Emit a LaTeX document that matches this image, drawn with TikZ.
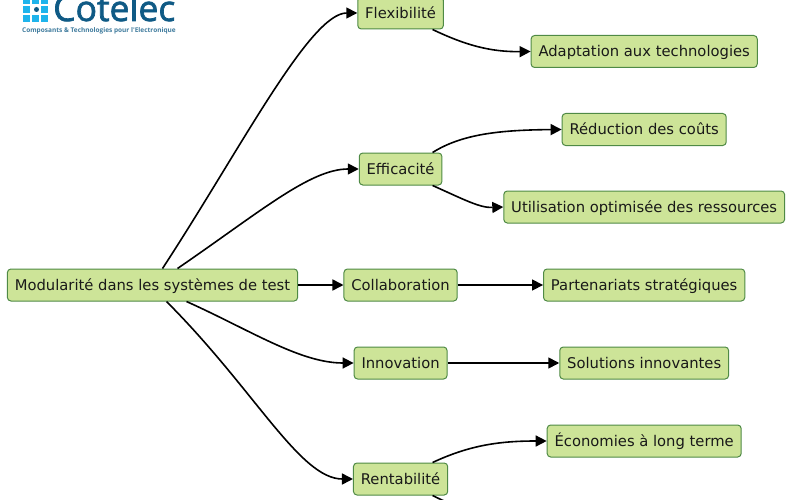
\documentclass[tikz,border=0pt]{standalone}
\usepackage{fontspec}
\setmainfont{DejaVu Sans}
\newfontfamily\logofont[FakeBold=2]{Open Sans}
\newfontfamily\logotagfont{Open Sans}
\usetikzlibrary{arrows.meta,positioning}
\definecolor{leaf}{HTML}{CDE498}
\definecolor{leafline}{HTML}{4F8A45}
\definecolor{logoblue}{HTML}{0F5A85}
\definecolor{logocyan}{HTML}{1FB4EC}
\tikzset{
  topicbox/.style={
    rectangle, rounded corners=3.5pt, draw=leafline, fill=leaf, line width=1pt,
    minimum height=32pt, inner xsep=7.4pt, inner ysep=0pt,
    text height=14pt, text depth=3pt,
    font=\fontsize{14.76}{16}\selectfont, text=black!90
  },
  linkarrow/.style={
    -{Stealth[length=11pt,width=11pt,inset=0pt]}, line width=1.6pt, color=black
  },
}

\begin{document}
\begin{tikzpicture}[x=1pt,y=-1pt,node distance=45pt and 45pt]
  \useasboundingbox (0,0) rectangle (800,500);
  \clip (0,0) rectangle (800,500);

  % Logo
  \foreach \col/\row in {0/0,1/0,2/0,0/1,2/1,0/2,1/2,2/2}
    \fill[logocyan] (23+9*\col,-3+9*\row) rectangle +(7,7);
  \fill[logoblue] (36.5,9.5) circle (2.5);
  \node[anchor=base west, inner sep=0pt, text=logoblue,
    font=\logofont\fontsize{35.5}{36}\selectfont] (logoname) at (53,21) {Cotelec};
  \node[anchor=base west, inner sep=0pt, text=logoblue!80,
    font=\logotagfont\bfseries\fontsize{6.5}{7}\selectfont] (logotag) at (22,32.5)
    {Composants \& Technologies pour l'Electronique};

  \node[topicbox] (root) at (152.5,285) {Modularité dans les systèmes de test};

  % Middle column
  \node[topicbox, right=45.4pt of root] (collab) {Collaboration};
  \node[topicbox, above=83pt of collab] (effic) {Efficacité};
  \node[topicbox, above=123pt of effic] (flex) {Flexibilité};
  \node[topicbox, below=45pt of collab] (innov) {Innovation};
  \node[topicbox, below=83pt of innov] (rent) {Rentabilité};

  % Right column
  \node[topicbox, right=85.4pt of collab] (partner) {Partenariats stratégiques};
  \node[topicbox, above=45pt of partner] (usage) {Utilisation optimisée des ressources};
  \node[topicbox, above=44.5pt of usage] (cost) {Réduction des coûts};
  \node[topicbox, above=45pt of cost] (adapt) {Adaptation aux technologies};
  \node[topicbox, below=45pt of partner] (solut) {Solutions innovantes};
  \node[topicbox, below=45pt of solut] (saving) {Économies à long terme};
  \coordinate (rentnext) at (530,519);

  \draw[linkarrow] ([xshift=10pt]root.north) .. controls (240,150) and (310,13) .. (flex.west);
  \draw[linkarrow] ([xshift=25pt]root.north) .. controls (260,212) and (310,169) .. (effic.west);
  \draw[linkarrow] (root) -- (collab);
  \draw[linkarrow] ([xshift=34pt]root.south) .. controls (250,330) and (300,363) .. (innov.west);
  \draw[linkarrow] ([xshift=14pt]root.south) .. controls (255,390) and (300,479) .. (rent.west);

  \draw[linkarrow] ([xshift=32pt]flex.south) .. controls (465,45) and (490,52) .. (adapt.west);
  \draw[linkarrow] ([xshift=32pt]effic.north) .. controls (462,134) and (500,130) .. (cost.west);
  \draw[linkarrow] ([xshift=32pt]effic.south) .. controls (465,200) and (480,208) .. (usage.west);
  \draw[linkarrow] (collab) -- (partner);
  \draw[linkarrow] (innov) -- (solut);
  \draw[linkarrow] ([xshift=32pt]rent.north) .. controls (470,445) and (500,441) .. (saving.west);
  \draw[linkarrow] ([xshift=32pt]rent.south) .. controls (470,514) and (490,519) .. (rentnext);
\end{tikzpicture}
\end{document}
